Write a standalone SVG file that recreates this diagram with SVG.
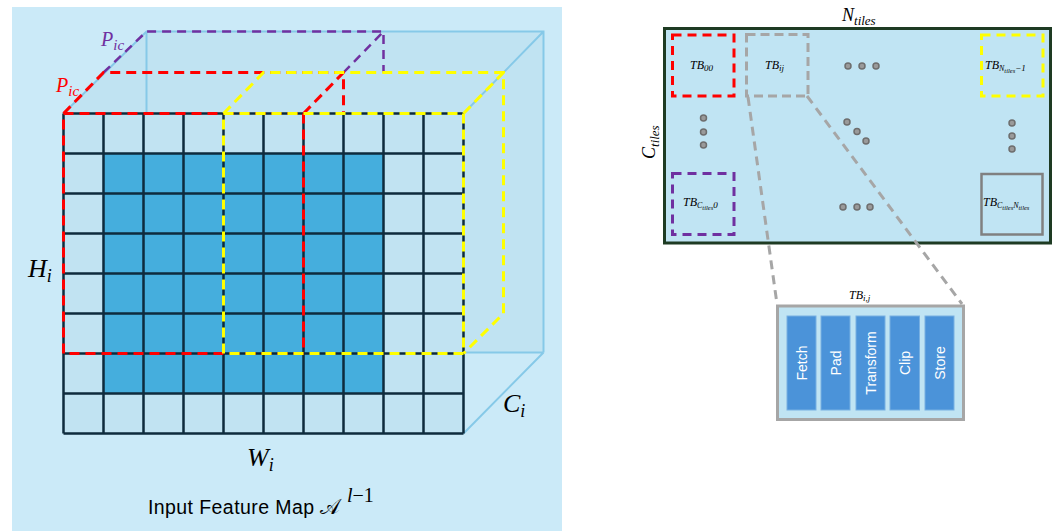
<svg xmlns="http://www.w3.org/2000/svg" width="1057" height="531" viewBox="0 0 1057 531">
<style>
.math{font-family:"Liberation Serif","DejaVu Serif",serif;font-style:italic}
.grid{stroke:#0e2b3d;stroke-width:2.5;fill:none}
.edge{stroke:#86c9e8;stroke-width:2;fill:none}
.red{stroke:#ff0000;stroke-width:3;fill:none;stroke-dasharray:10 6}
.yel{stroke:#ffff00;stroke-width:3;fill:none;stroke-dasharray:10 6}
.pur{stroke:#7030a0;stroke-width:2.5;fill:none;stroke-dasharray:9 6}
.lt{fill:#c1e3f2}
.dk{fill:#45aedd}
.dot{fill:#9a9a9a;stroke:#6e6e6e;stroke-width:1.5}
.tb{font-family:"Liberation Serif",serif;font-style:italic;font-size:12px;fill:#000}
.bar{fill:#4b93d9;stroke:#78b0e2;stroke-width:1}
.bt{font-family:"Liberation Sans",Arial,sans-serif;font-size:14px;fill:#ffffff}
</style>
<rect x="0" y="0" width="1057" height="531" fill="#ffffff"/>
<g id="feature-map">
<rect x="12" y="7" width="550" height="524" fill="#cbeaf8"/>
<polygon points="63.5,113.5 146.5,31.5 543.5,31.5 543.5,352.5 463.5,352.5 463.5,113.5" fill="#c0e3f2"/>
<path class="edge" d="M63.5,113.5 L146.5,31.5 L543.5,31.5 L543.5,352.5 M463.5,113.5 L543.5,31.5 M463.5,433.5 L543.5,352.5 M146.5,31.5 L146.5,113.5 M463.5,352.5 L543.5,352.5"/>
<rect class="lt" x="63.5" y="113.5" width="400" height="320"/>
<rect class="dk" x="103.5" y="153.5" width="280" height="240"/>
<path class="grid" d="M63.5,113.5 V433.5 M103.5,113.5 V433.5 M143.5,113.5 V433.5 M183.5,113.5 V433.5 M223.5,113.5 V433.5 M263.5,113.5 V433.5 M303.5,113.5 V433.5 M343.5,113.5 V433.5 M383.5,113.5 V433.5 M423.5,113.5 V433.5 M463.5,113.5 V433.5 M63.5,113.5 H463.5 M63.5,153.5 H463.5 M63.5,193.5 H463.5 M63.5,233.5 H463.5 M63.5,273.5 H463.5 M63.5,313.5 H463.5 M63.5,353.5 H463.5 M63.5,393.5 H463.5 M63.5,433.5 H463.5"/>
<path class="pur" d="M103.5,72.5 L146.5,31.5 L383.5,31.5 L383.5,72.5 M343.5,72.5 L383.5,31.5"/>
<path class="red" d="M63.5,113.5 L103.5,72.5 L343.5,72.5 L343.5,113.5 M303.5,113.5 L343.5,72.5"/>
<rect class="red" x="63.5" y="113.5" width="240" height="240"/>
<path class="yel" d="M223.5,113.5 L263.5,72.5 L503.5,72.5 L503.5,313.5 L463.5,353.5 M463.5,113.5 L503.5,72.5"/>
<rect class="yel" x="223.5" y="113.5" width="240" height="240"/>
<text class="math" x="101" y="46" font-size="20" fill="#7030a0">P<tspan font-size="15" dy="4">ic</tspan></text>
<text class="math" x="56" y="92" font-size="20" fill="#ff0000">P<tspan font-size="15" dy="4">ic</tspan></text>
<text class="math" x="28" y="277" font-size="26" fill="#000">H<tspan font-size="18" dy="5">i</tspan></text>
<text class="math" x="247" y="466" font-size="26" fill="#000">W<tspan font-size="18" dy="5">i</tspan></text>
<text class="math" x="503" y="412" font-size="26" fill="#000">C<tspan font-size="18" dy="5">i</tspan></text>
<text x="148" y="514" font-family="Liberation Sans,Arial,sans-serif" font-size="19.5" fill="#000" textLength="166" lengthAdjust="spacing">Input Feature Map</text>
<text x="320" y="514" font-family="DejaVu Sans,Noto Sans,serif" font-size="21" fill="#000">𝒜</text>
<text class="math" x="347" y="502" font-size="20" fill="#000">l<tspan font-style="normal">−1</tspan></text>
</g>
<g id="tile-grid">
<rect x="664.5" y="28.5" width="386" height="214.5" fill="#c0e4f3" stroke="#1e3b23" stroke-width="3"/>
<text class="math" x="842" y="21" font-size="18" fill="#000">N<tspan font-size="13" dy="4">tiles</tspan></text>
<text class="math" transform="translate(655,159) rotate(-90)" font-size="18" fill="#000">C<tspan font-size="13" dy="4">tiles</tspan></text>
</g>
<g id="tb00">
<rect x="672.5" y="35" width="61.5" height="61" fill="none" stroke="#ff0000" stroke-width="3" stroke-dasharray="9 6"/>
<text class="tb" x="690" y="69">TB<tspan font-size="9" dy="2">00</tspan></text>
</g>
<g id="tbij">
<rect x="746.5" y="34.5" width="61.5" height="61.5" fill="none" stroke="#a6a6a6" stroke-width="3" stroke-dasharray="9 5"/>
<text class="tb" x="765" y="69">TB<tspan font-size="9" dy="2">ij</tspan></text>
</g>
<g id="tbN">
<rect x="981.5" y="35" width="61.5" height="61" fill="none" stroke="#ffff00" stroke-width="3" stroke-dasharray="9 6"/>
<text class="tb" x="985" y="69">TB<tspan font-size="8" dy="2">N</tspan><tspan font-size="6.5" dy="1.5">tiles</tspan><tspan font-size="9" dy="-1.5">−1</tspan></text>
</g>
<g id="tbC0">
<rect x="672.5" y="173.5" width="61.5" height="61" fill="none" stroke="#7030a0" stroke-width="3" stroke-dasharray="9 6"/>
<text class="tb" x="683" y="206">TB<tspan font-size="8" dy="2">C</tspan><tspan font-size="6.5" dy="1.5">tiles</tspan><tspan font-size="9" dy="-1.5">0</tspan></text>
</g>
<g id="tbCN">
<rect x="981.5" y="174" width="61" height="60.5" fill="none" stroke="#808080" stroke-width="2.5"/>
<text class="tb" x="983" y="206">TB<tspan font-size="8" dy="2">C</tspan><tspan font-size="6.5" dy="1.5">tiles</tspan><tspan font-size="8" dy="-1.5">N</tspan><tspan font-size="6.5" dy="1.5">tiles</tspan></text>
</g>
<g id="dots">
<circle class="dot" cx="848" cy="66" r="3"/><circle class="dot" cx="862" cy="66" r="3"/><circle class="dot" cx="876" cy="66" r="3"/>
<circle class="dot" cx="703.5" cy="118" r="3"/><circle class="dot" cx="703.5" cy="132" r="3"/><circle class="dot" cx="703.5" cy="145" r="3"/>
<circle class="dot" cx="847" cy="122" r="3"/><circle class="dot" cx="857" cy="131.5" r="3"/><circle class="dot" cx="866" cy="141" r="3"/>
<circle class="dot" cx="1012" cy="123" r="3"/><circle class="dot" cx="1012" cy="136" r="3"/><circle class="dot" cx="1012" cy="149" r="3"/>
<circle class="dot" cx="843" cy="207" r="3"/><circle class="dot" cx="857" cy="207" r="3"/><circle class="dot" cx="870" cy="207" r="3"/>
</g>
<g id="connectors">
<path d="M748,97 L777,304 M807,96 L962,304" fill="none" stroke="#a6a6a6" stroke-width="3" stroke-dasharray="9 6"/>
</g>
<g id="tb-detail">
<rect x="777.5" y="306" width="186" height="113.5" fill="#c0e4f3" stroke="#a6a6a6" stroke-width="3"/>
<text class="tb" x="849" y="299">TB<tspan font-size="9" dy="2">i,j</tspan></text>
<rect class="bar" x="787" y="316" width="29" height="94"/>
<rect class="bar" x="821" y="316" width="29" height="94"/>
<rect class="bar" x="856" y="316" width="29" height="94"/>
<rect class="bar" x="890" y="316" width="29.5" height="94"/>
<rect class="bar" x="925" y="316" width="29" height="94"/>
<text class="bt" transform="translate(806.5,363) rotate(-90)" text-anchor="middle">Fetch</text>
<text class="bt" transform="translate(840.5,363) rotate(-90)" text-anchor="middle">Pad</text>
<text class="bt" transform="translate(875.5,363) rotate(-90)" text-anchor="middle">Transform</text>
<text class="bt" transform="translate(910,363) rotate(-90)" text-anchor="middle">Clip</text>
<text class="bt" transform="translate(944.5,363) rotate(-90)" text-anchor="middle">Store</text>
</g>
</svg>
